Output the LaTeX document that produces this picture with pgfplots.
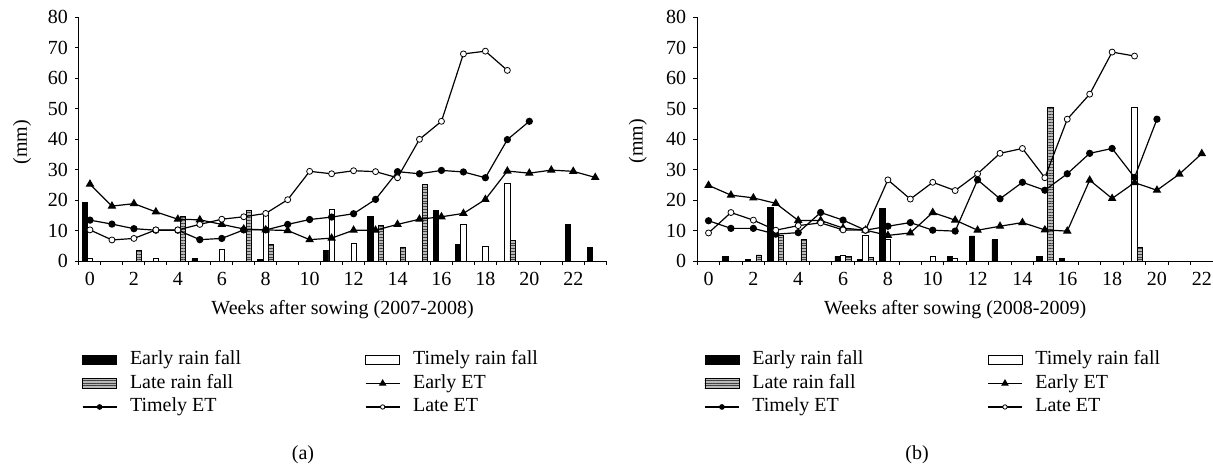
\documentclass[border=0pt]{standalone}
\usepackage{fontspec}
\setmainfont{Liberation Serif}
\usepackage{pgfplots}
\pgfplotsset{compat=1.18}
\usetikzlibrary{patterns.meta}
\setlength{\parindent}{0pt}

\pgfplotsset{
  mybase/.style={
    scale only axis, height=122pt,
    ymin=0, ymax=80, ytick={0,10,...,80},
    axis x line*=bottom, axis y line*=left,
    axis line style={line width=0.5pt, black},
    tick align=outside, major tick length=2pt, minor tick length=2pt,
    tick style={line width=0.5pt, black},
    major x tick style={draw=none},
    xtick={0,2,...,22},
    every tick label/.append style={font=\fontsize{10}{12}\selectfont},
    /pgf/number format/assume math mode=true,
    label style={font=\fontsize{10}{12}\selectfont},
    legend columns=2,
    legend style={draw=none, fill=none, inner sep=0pt, outer sep=0pt,
      anchor=north west, row sep=0pt, column sep=6.4pt,
      font=\fontsize{10}{12}\selectfont,
      cells={anchor=west},
      nodes={inner xsep=0pt, inner ysep=1.275pt, text height=7pt, text depth=2.2pt},
      /tikz/every even column/.append style={column sep=62pt}},
  },
  earlybar/.style={ybar, bar width=0.24, bar shift=-0.24, draw=black, line width=0.4pt, fill=black,
    legend image code/.code={\draw[black, line width=0.4pt, fill=black] (0pt,-2.3pt) rectangle (17pt,2.3pt);}},
  timelybar/.style={ybar, bar width=0.24, bar shift=0, draw=black, line width=0.4pt, fill=white,
    legend image code/.code={\draw[black, line width=0.4pt, fill=white] (0pt,-2.3pt) rectangle (17pt,2.3pt);}},
  latebar/.style={ybar, bar width=0.24, bar shift=0.24, draw=black, line width=0.4pt, fill=gray!55,
    postaction={pattern={Lines[angle=0,distance=1.4pt,line width=0.5pt]}, pattern color=black!75},
    legend image code/.code={\draw[black, line width=0.4pt, fill=gray!55, postaction={pattern={Lines[angle=0,distance=1.4pt,line width=0.5pt]}, pattern color=black!75}] (0pt,-2.3pt) rectangle (17pt,2.3pt);}},
  earlyet/.style={sharp plot, black, line width=0.6pt, mark=triangle*, mark size=1.9pt, mark options={solid, fill=black},
    legend image code/.code={\draw[black, line width=0.6pt] (0pt,0pt) -- (17pt,0pt); \fill[black] (8.5pt,1.6pt) -- (7.1pt,-0.8pt) -- (9.9pt,-0.8pt) -- cycle;}},
  timelyet/.style={sharp plot, black, line width=0.6pt, mark=*, mark size=1.5pt, mark options={solid, fill=black},
    legend image code/.code={\draw[black, line width=0.6pt] (0pt,0pt) -- (17pt,0pt); \fill[black] (8.5pt,0pt) circle (1.1pt);}},
  lateet/.style={sharp plot, black, line width=0.6pt, mark=*, mark size=1.5pt, mark options={solid, fill=white, line width=0.4pt},
    legend image code/.code={\draw[black, line width=0.6pt] (0pt,0pt) -- (17pt,0pt); \filldraw[black, fill=white, line width=0.4pt] (8.5pt,0pt) circle (1.1pt);}},
}

\begin{document}
\begin{tikzpicture}[font=\fontsize{10}{12}\selectfont]
\useasboundingbox (0,0) rectangle (606.5pt,233.5pt);

% ---------------- panel (a) ----------------
\begin{axis}[mybase,
  at={(39.5pt,103pt)}, anchor=south west, width=263.6pt,
  xmin=-0.5, xmax=23.5, minor xtick={-0.5,0.5,...,23.5},
  xlabel={Weeks after sowing (2007-2008)},
  xlabel style={at={(axis description cs:0.5,-0.2008)}, anchor=center},
  ylabel={(mm)},
  ylabel style={at={(axis description cs:-0.1081,0.4877)}, anchor=center},
  legend style={at={(axis description cs:0.0057,-0.3574)}},
]
\addplot[earlybar] coordinates {(0,19.3) (5,0.7) (8,0.6) (11,3.5) (13,14.6) (16,16.7) (17,5.5) (22,12.0) (23,4.5)};
\addlegendentry{Early rain fall}
\addplot[timelybar] coordinates {(0,0.8) (3,0.8) (6,3.8) (8,15.1) (11,16.9) (12,5.7) (17,12.0) (18,4.8) (19,25.4)};
\addlegendentry{Timely rain fall}
\addplot[latebar] coordinates {(2,3.4) (4,14.6) (7,16.7) (8,5.5) (13,11.7) (14,4.6) (15,25.1) (19,6.6)};
\addlegendentry{Late rain fall}
\addplot[earlyet] coordinates {(0,25.2) (1,18.0) (2,18.8) (3,16.1) (4,13.7) (5,13.5) (6,12.0) (7,10.5) (8,10.2) (9,10.0) (10,7.0) (11,7.5) (12,10.1) (13,10.1) (14,12.0) (15,13.7) (16,14.5) (17,15.6) (18,20.2) (19,29.5) (20,28.8) (21,29.8) (22,29.4) (23,27.4)};
\addlegendentry{Early ET}
\addplot[timelyet] coordinates {(0,13.4) (1,12.1) (2,10.6) (3,10.1) (4,10.1) (5,7.0) (6,7.4) (7,10.2) (8,10.2) (9,12.0) (10,13.6) (11,14.4) (12,15.5) (13,20.2) (14,29.3) (15,28.6) (16,29.7) (17,29.2) (18,27.3) (19,39.8) (20,45.8)};
\addlegendentry{Timely ET}
\addplot[lateet] coordinates {(0,10.2) (1,6.9) (2,7.4) (3,10.2) (4,10.2) (5,12.0) (6,13.7) (7,14.5) (8,15.6) (9,20.1) (10,29.4) (11,28.6) (12,29.6) (13,29.3) (14,27.3) (15,39.9) (16,45.8) (17,67.9) (18,68.8) (19,62.5)};
\addlegendentry{Late ET}
\end{axis}

% ---------------- panel (b) ----------------
\begin{axis}[mybase,
  at={(348.65pt,103pt)}, anchor=south west, width=257.85pt,
  xmin=-0.5, xmax=22.5, minor xtick={-0.5,0.5,...,22.5},
  xlabel={Weeks after sowing (2008-2009)},
  xlabel style={at={(axis description cs:0.5,-0.2008)}, anchor=center},
  ylabel={(mm)},
  ylabel style={at={(axis description cs:-0.1154,0.4918)}, anchor=center},
  legend style={at={(axis description cs:0.0136,-0.3574)}},
]
\addplot[earlybar] coordinates {(1,1.5) (2,0.6) (3,17.5) (6,1.5) (7,0.5) (8,17.3) (11,1.5) (12,8.2) (13,7.0) (15,1.5) (16,0.9)};
\addlegendentry{Early rain fall}
\addplot[timelybar] coordinates {(6,2.0) (7,8.3) (8,7.1) (10,1.5) (11,1.0) (19,50.5)};
\addlegendentry{Timely rain fall}
\addplot[latebar] coordinates {(2,2.0) (3,8.5) (4,7.2) (6,1.6) (7,1.2) (15,50.5) (19,4.6)};
\addlegendentry{Late rain fall}
\addplot[earlyet] coordinates {(0,24.8) (1,21.6) (2,20.7) (3,18.9) (4,13.3) (5,13.3) (6,10.8) (7,10.1) (8,8.4) (9,9.2) (10,15.9) (11,13.4) (12,10.1) (13,11.4) (14,12.6) (15,10.2) (16,9.8) (17,26.5) (18,20.5) (19,25.7) (20,23.2) (21,28.5) (22,35.2)};
\addlegendentry{Early ET}
\addplot[timelyet] coordinates {(0,13.2) (1,10.7) (2,10.7) (3,8.8) (4,9.3) (5,15.9) (6,13.4) (7,10.1) (8,11.4) (9,12.6) (10,10.1) (11,9.8) (12,26.6) (13,20.4) (14,25.8) (15,23.2) (16,28.6) (17,35.3) (18,36.9) (19,27.4) (20,46.5)};
\addlegendentry{Timely ET}
\addplot[lateet] coordinates {(0,9.2) (1,15.9) (2,13.4) (3,10.1) (4,11.6) (5,12.5) (6,10.2) (7,10.1) (8,26.6) (9,20.3) (10,25.8) (11,23.1) (12,28.6) (13,35.3) (14,36.9) (15,27.3) (16,46.5) (17,54.7) (18,68.5) (19,67.2)};
\addlegendentry{Late ET}
\end{axis}

\node at (151.5pt,6pt) {(a)};
\node at (458.5pt,6pt) {(b)};
\end{tikzpicture}
\end{document}
